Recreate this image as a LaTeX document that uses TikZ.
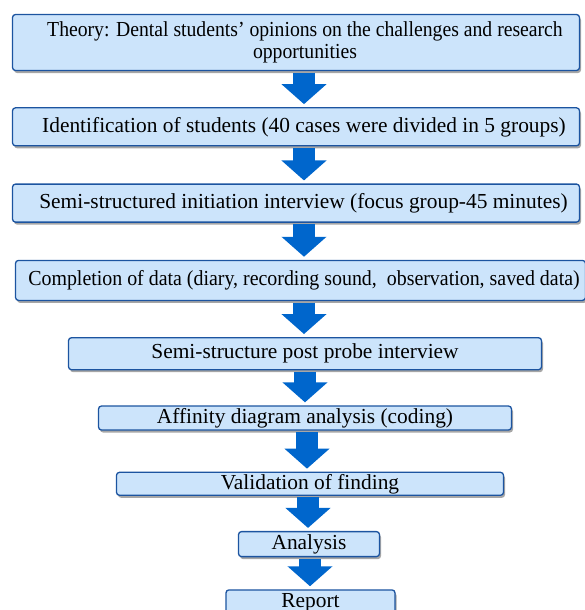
\documentclass[tikz,border=0pt]{standalone}
\usepackage{fontspec}
\usepackage{graphicx}
\setmainfont{Liberation Serif}
\usetikzlibrary{positioning, arrows.meta, shadows}

\definecolor{boxfill}{RGB}{204,228,251}
\definecolor{boxline}{RGB}{28,84,160}
\definecolor{flowblue}{RGB}{0,102,204}

\begin{document}
\begin{tikzpicture}[
    x=1pt, y=1pt,
    stage/.style={rectangle, draw=boxline, line width=1.3pt, fill=boxfill, rounded corners=3pt, inner sep=0pt, align=center, font=\fontsize{21.4}{22.4}\selectfont, drop shadow={shadow xshift=1.5pt, shadow yshift=-2.5pt, fill=black, opacity=0.35}},
    flow/.style={flowblue, line width=22pt, -{Triangle[width=44pt, length=20pt]}, shorten <=1.5pt, shorten >=3pt}
]
\useasboundingbox (0,0) rectangle (585,-610);

\node [stage, minimum width=567pt, minimum height=56pt] (theory) at (296,-42.5) {\hspace*{18pt}\scalebox{0.92}[1]{Theory: Dental students’ opinions on the challenges and research}\\\hspace*{18pt}\scalebox{0.92}[1]{opportunities}};
\node [stage, below=36pt of theory, minimum width=567pt, minimum height=38pt] (ident) {\hspace*{16pt}Identification of students (40 cases were divided in 5 groups)};
\node [stage, below=37pt of ident, minimum width=567pt, minimum height=38pt] (semi) {\hspace*{15pt}Semi-structured initiation interview (focus group-45 minutes)};
\node [stage, below=37pt of semi, xshift=4.5pt, minimum width=570pt, minimum height=40pt] (complete) {\hspace*{7pt}\scalebox{0.93}[1]{Completion of data (diary, recording sound,\ \ observation, saved data)}};
\node [stage, below=36pt of complete, xshift=4.5pt, minimum width=473pt, minimum height=32pt] (probe) {Semi-structure post probe interview};
\node [stage, below=35pt of probe, minimum width=413pt, minimum height=24pt] (affinity) {Affinity diagram analysis (coding)};
\node [stage, below=41pt of affinity, xshift=5pt, minimum width=387pt, minimum height=23pt] (valid) {Validation of finding};
\node [stage, below=35pt of valid, xshift=-1pt, minimum width=141pt, minimum height=25pt] (analysis) {Analysis};
\node [stage, below=32pt of analysis, xshift=1.5pt, minimum width=169pt, minimum height=25pt] (report) {Report};

% block arrows between the stages
\foreach \a/\b/\x in {theory/ident/304, ident/semi/304, semi/complete/304, complete/probe/304, probe/affinity/305, affinity/valid/307, valid/analysis/308, analysis/report/310}
    \draw [flow] (\a.south -| \x,0) -- (\b.north -| \x,0);
\end{tikzpicture}
\end{document}
